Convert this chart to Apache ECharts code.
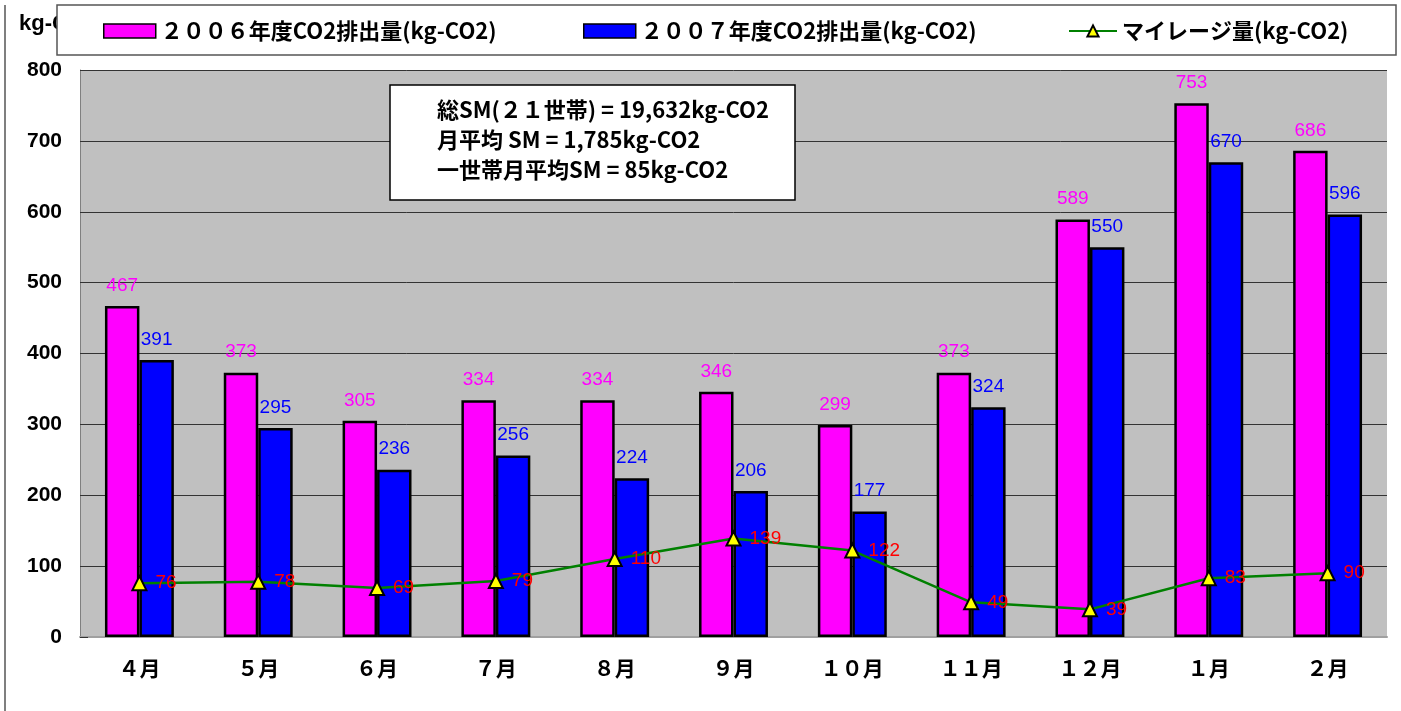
<!DOCTYPE html>
<html lang="ja">
<head>
<meta charset="UTF-8">
<title>CO2排出量</title>
<script src="https://cdn.jsdelivr.net/npm/echarts@6/dist/echarts.min.js"></script>
<style>
    html, body { margin: 0; padding: 0; background: #fff; }
    #chart { width: 1401px; height: 711px; }
</style>
</head>
<body>
<div id="chart"></div>
<script>
    // 月
    var months = ['４月', '５月', '６月', '７月', '８月', '９月', '１０月', '１１月', '１２月', '１月', '２月'];
    // 2006年度 / 2007年度 CO2排出量
    var co2_2006 = [467, 373, 305, 334, 334, 346, 299, 373, 589, 753, 686];
    var co2_2007 = [391, 295, 236, 256, 224, 206, 177, 324, 550, 670, 596];
    // マイレージ量
    var mileage = [76, 78, 69, 79, 110, 139, 122, 49, 39, 83, 90];
    var yTicks = [0, 100, 200, 300, 400, 500, 600, 700, 800];

    var jp = '"Noto Sans CJK JP", sans-serif';
    var num = '"Liberation Sans", Arial, sans-serif';

    var myChart = echarts.init(document.getElementById('chart'));

    var legendText = {color: '#000', fontFamily: jp, fontWeight: 'bold', fontSize: 22};
    var legendBorder = {borderColor: '#000', borderWidth: 1.5};

    var option = {
        animation: false,
        grid: {left: 80, right: 14, top: 70, bottom: 74, show: true, backgroundColor: '#c0c0c0', borderWidth: 0},
        legend: [
            {data: [{name: '２００６年度CO2排出量(kg-CO2)', icon: 'rect', itemStyle: legendBorder}], left: 98, top: 15, itemWidth: 52, itemHeight: 14, itemGap: 8, textStyle: legendText, z: 20},
            {data: [{name: '２００７年度CO2排出量(kg-CO2)', icon: 'rect', itemStyle: legendBorder}], left: 578, top: 15, itemWidth: 52, itemHeight: 14, itemGap: 8, textStyle: legendText, z: 20},
            {data: ['マイレージ量(kg-CO2)'], left: 1063, top: 15, itemWidth: 48, itemHeight: 14, itemGap: 8, textStyle: legendText, z: 20}
        ],
        xAxis: {
            type: 'category',
            data: months,
            axisLine: {lineStyle: {color: '#a0a0a0', width: 2}},
            axisTick: {inside: true, length: 9, lineStyle: {color: '#333'}},
            axisLabel: {color: '#000', fontFamily: jp, fontWeight: 'bold', fontSize: 21, margin: 21}
        },
        yAxis: {
            type: 'value',
            min: yTicks[0],
            max: yTicks[yTicks.length - 1],
            interval: 100,
            axisLine: {show: true, lineStyle: {color: '#808080', width: 1}},
            axisTick: {show: true, inside: true, length: 8, lineStyle: {color: '#333'}},
            axisLabel: {color: '#000', fontFamily: num, fontWeight: 'bold', fontSize: 21, margin: 18},
            splitLine: {lineStyle: {color: '#333', width: 1}}
        },
        series: [
            {
                name: '２００６年度CO2排出量(kg-CO2)',
                type: 'bar',
                data: co2_2006,
                barGap: '0%',
                barCategoryGap: '42%',
                itemStyle: {color: '#ff00ff', borderColor: '#000', borderWidth: 2.5},
                label: {show: true, position: 'top', distance: 11, color: '#ff00ff', fontFamily: num, fontSize: 19}
            },
            {
                name: '２００７年度CO2排出量(kg-CO2)',
                type: 'bar',
                data: co2_2007,
                itemStyle: {color: '#0000ff', borderColor: '#000', borderWidth: 2.5},
                label: {show: true, position: 'top', distance: 11, color: '#0000ff', fontFamily: num, fontSize: 19}
            },
            {
                name: 'マイレージ量(kg-CO2)',
                type: 'line',
                data: mileage,
                z: 5,
                symbol: 'triangle',
                symbolSize: 14,
                lineStyle: {color: '#008000', width: 2.5},
                itemStyle: {color: '#ffff00', borderColor: '#000', borderWidth: 2},
                label: {show: true, position: 'right', distance: 8, color: '#ff0000', fontFamily: num, fontSize: 19}
            }
        ],
        graphic: [
            {type: 'line', shape: {x1: 5, y1: 5, x2: 5, y2: 711}, style: {stroke: '#555', lineWidth: 1.5}, z: 1},
            {type: 'text', left: 19, top: 13, style: {text: 'kg-CO2', fill: '#000', font: 'bold 22px "Liberation Sans", Arial, sans-serif'}, z: 1},
            {type: 'rect', shape: {x: 57, y: 5, width: 1339, height: 50}, style: {fill: '#fff', stroke: '#555', lineWidth: 1.5}, z: 10},
            {type: 'rect', shape: {x: 390, y: 85, width: 405, height: 115}, style: {fill: '#fff', stroke: '#000', lineWidth: 1.5}, z: 10},
            {
                type: 'text', left: 437, top: 95, z: 11,
                style: {
                    text: '総SM(２１世帯) = 19,632kg-CO2\n月平均 SM = 1,785kg-CO2\n一世帯月平均SM = 85kg-CO2',
                    fill: '#000', font: 'bold 22px "Noto Sans CJK JP", sans-serif', lineHeight: 30
                }
            }
        ]
    };

    myChart.setOption(option);
</script>
</body>
</html>
